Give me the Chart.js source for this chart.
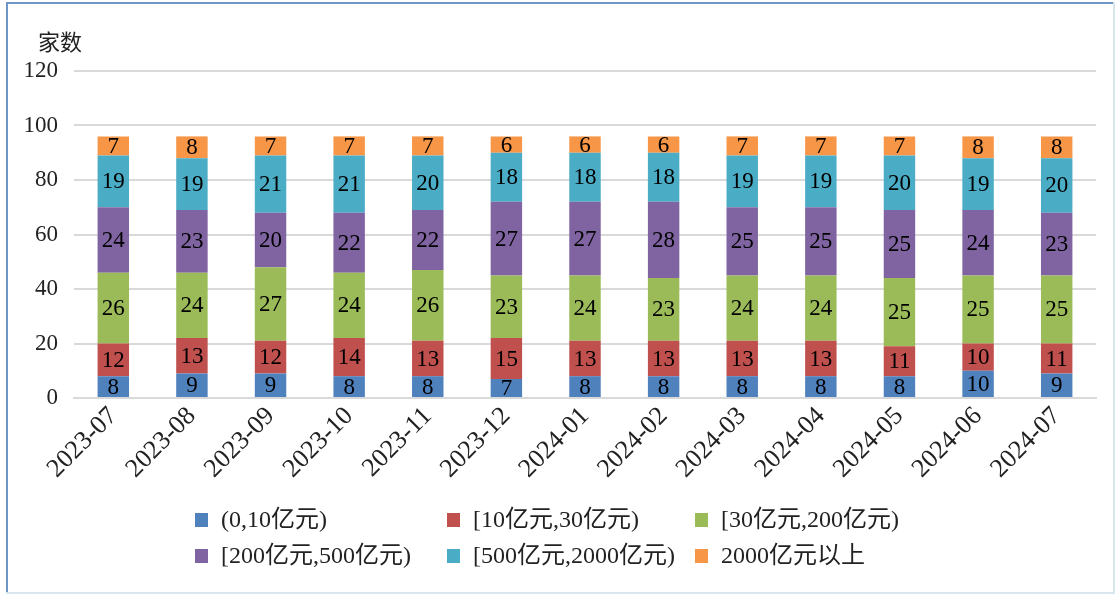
<!DOCTYPE html>
<html>
<head>
<meta charset="utf-8">
<script src="https://cdn.jsdelivr.net/npm/chart.js@4"></script>
<style>
  html, body { margin: 0; padding: 0; background: #fff; }
  #wrap { width: 1115px; height: 594px; position: relative; }
</style>
</head>
<body>
<div id="wrap"><canvas id="chart"></canvas></div>
<script>
// months on the x axis
const months = ['2023-07', '2023-08', '2023-09', '2023-10', '2023-11', '2023-12',
  '2024-01', '2024-02', '2024-03', '2024-04', '2024-05', '2024-06', '2024-07'];

// series, bottom to top
const seriesNames = ['(0,10亿元)', '[10亿元,30亿元)', '[30亿元,200亿元)',
  '[200亿元,500亿元)', '[500亿元,2000亿元)', '2000亿元以上'];
const under10 = [8, 9, 9, 8, 8, 7, 8, 8, 8, 8, 8, 10, 9];
const from10to30 = [12, 13, 12, 14, 13, 15, 13, 13, 13, 13, 11, 10, 11];
const from30to200 = [26, 24, 27, 24, 26, 23, 24, 23, 24, 24, 25, 25, 25];
const from200to500 = [24, 23, 20, 22, 22, 27, 27, 28, 25, 25, 25, 24, 23];
const from500to2000 = [19, 19, 21, 21, 20, 18, 18, 18, 19, 19, 20, 19, 20];
const over2000 = [7, 8, 7, 7, 7, 6, 6, 6, 7, 7, 7, 8, 8];

const yTicks = [0, 20, 40, 60, 80, 100, 120];

const colors = ['#4F81BD', '#C0504D', '#9BBB59', '#8064A2', '#4BACC6', '#F79646'];
const FONT = "'Liberation Serif', 'Noto Sans CJK SC', serif";

const seriesValues = [under10, from10to30, from30to200, from200to500, from500to2000, over2000];

// frame, y unit, value labels and legend drawn on the canvas
const extras = {
  id: 'extras',
  beforeDraw(chart) {
    const c = chart.ctx;
    c.save();
    c.fillStyle = '#fff';
    c.fillRect(0, 0, chart.width, chart.height);
    c.fillStyle = '#7096c8';
    c.fillRect(6, 2, 2, 592);
    c.fillRect(6, 2, 1109, 2);
    c.fillStyle = '#d8e7ee';
    c.fillRect(1113, 2, 2, 592);
    c.fillRect(6, 592, 1109, 2);
    c.restore();
  },
  afterDatasetsDraw(chart) {
    const c = chart.ctx;
    c.save();
    c.font = '23px ' + FONT;
    c.fillStyle = '#000';
    c.textAlign = 'center';
    c.textBaseline = 'middle';
    chart.data.datasets.forEach((ds, i) => {
      chart.getDatasetMeta(i).data.forEach((bar, j) => {
        c.fillText(String(ds.data[j]), bar.x, (bar.y + bar.base) / 2 + 1);
      });
    });
    c.restore();
  },
  afterDraw(chart) {
    const c = chart.ctx;
    c.save();
    c.fillStyle = '#222';
    c.font = "22px 'Noto Sans CJK SC', sans-serif";
    c.textBaseline = 'middle';
    c.fillText('家数', 38, 42);

    // legend, 3 columns x 2 rows
    const colX = [195, 447, 695];
    const rowY = [520, 556];
    c.font = '24px ' + FONT;
    seriesNames.forEach((name, i) => {
      const x = colX[i % 3];
      const y = rowY[Math.floor(i / 3)];
      c.fillStyle = colors[i];
      c.fillRect(x, y - 7, 13, 14);
      c.fillStyle = '#222';
      c.fillText(name, x + 26, y + 1);
    });
    c.restore();
  }
};

new Chart(document.getElementById('chart'), {
  type: 'bar',
  data: {
    labels: months,
    datasets: seriesNames.map((name, i) => ({
      label: name,
      data: seriesValues[i],
      backgroundColor: colors[i],
      borderWidth: 0,
      barPercentage: 0.4,
      categoryPercentage: 1
    }))
  },
  plugins: [extras],
  options: {
    responsive: true,
    maintainAspectRatio: false,
    animation: false,
    layout: { padding: { left: 8, right: 19, top: 71, bottom: 0 } },
    plugins: {
      legend: { display: false },
      tooltip: { enabled: false }
    },
    scales: {
      x: {
        stacked: true,
        grid: { display: false, drawTicks: false },
        border: { color: '#d9d9d9', width: 2 },
        ticks: {
          minRotation: 45,
          maxRotation: 45,
          padding: 3,
          color: '#222',
          font: { family: FONT, size: 26 }
        },
        afterFit(scale) { scale.height = 196; }
      },
      y: {
        stacked: true,
        min: 0,
        max: 120,
        afterBuildTicks(scale) { scale.ticks = yTicks.map(v => ({ value: v })); },
        grid: { color: '#d9d9d9', lineWidth: 2, drawTicks: false },
        border: { display: false },
        ticks: {
          padding: 16,
          color: '#222',
          font: { family: FONT, size: 23 }
        },
        afterFit(scale) { scale.width = 66; }
      }
    }
  }
});
</script>
</body>
</html>
